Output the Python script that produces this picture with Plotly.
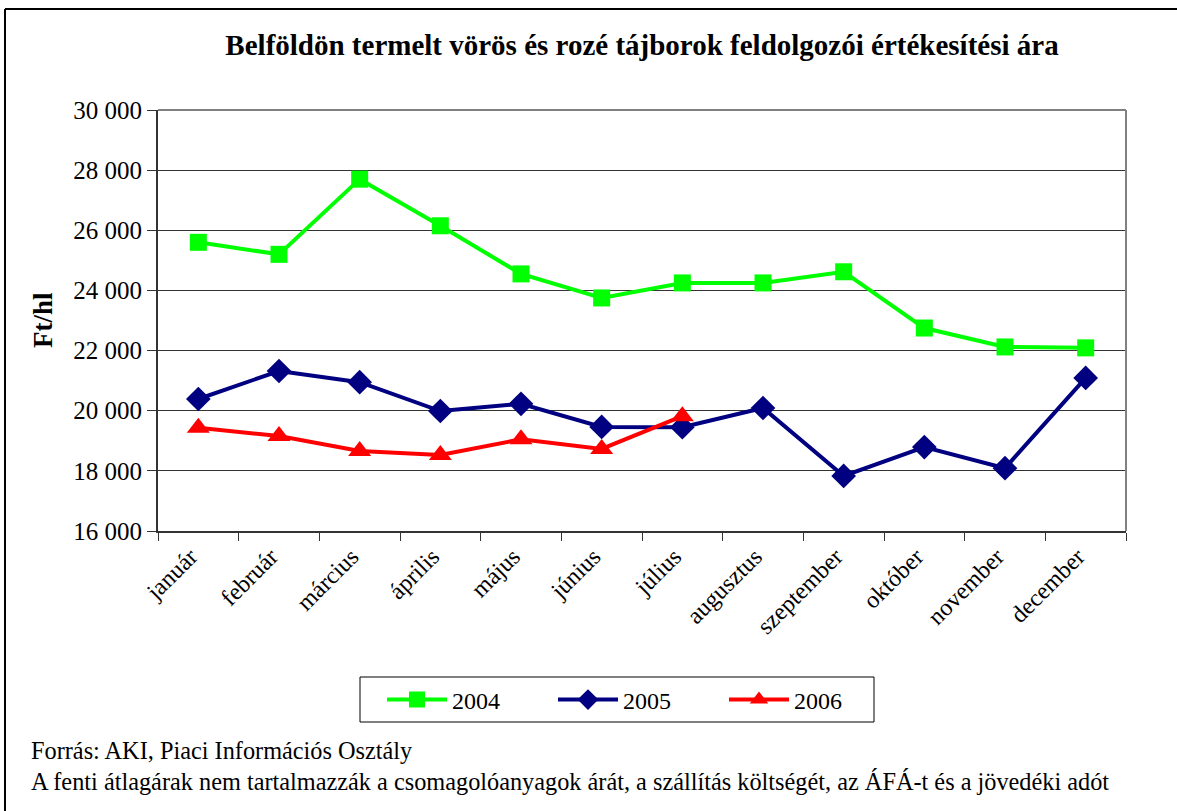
import plotly.graph_objects as go

months = ["január", "február", "március", "április", "május", "június", "július",
          "augusztus", "szeptember", "október", "november", "december"]
y2004 = [25600, 25200, 27700, 26150, 24550, 23750, 24250, 24250, 24620, 22750, 22120, 22090]
y2005 = [20390, 21320, 20950, 19990, 20230, 19460, 19450, 20090, 17830, 18790, 18090, 21090]
y2006 = [19430, 19160, 18660, 18530, 19050, 18730, 19820]

W, H = 1177, 811
L, R, T, B = 158, 1126, 110, 531
pw, ph = R - L, B - T

def px(x):
    return (x - L) / pw

def py(y):
    return (B - y) / ph

FONT = "Liberation Serif"

fig = go.Figure()
fig.add_trace(go.Scatter(x=months, y=y2004, name="2004", mode="lines+markers",
                         line=dict(color="#00FF00", width=4),
                         marker=dict(symbol="square", size=17, color="#00FF00")))
fig.add_trace(go.Scatter(x=months[:len(y2005)], y=y2005, name="2005", mode="lines+markers",
                         line=dict(color="#000080", width=4),
                         marker=dict(symbol="diamond", size=19, color="#000080")))
fig.add_trace(go.Scatter(x=months[:len(y2006)], y=y2006, name="2006", mode="lines+markers",
                         line=dict(color="#FF0000", width=4),
                         marker=dict(symbol="triangle-up", size=20, color="#FF0000")))

fig.update_layout(
    width=W, height=H,
    margin=dict(l=L, r=W - R, t=T, b=H - B, pad=0),
    paper_bgcolor="white", plot_bgcolor="white",
    font=dict(family=FONT, color="black", size=24),
    separators=", ",
    title=dict(text="<b>Belföldön termelt vörös és rozé tájborok feldolgozói értékesítési ára</b>",
               x=0.5, xref="paper", xanchor="center", y=1 - 45 / H, yanchor="middle",
               font=dict(family=FONT, size=29, color="black")),
    xaxis=dict(type="category", categoryorder="array", categoryarray=months,
               range=[-0.5, 11.5], tickangle=-45, tickson="boundaries",
               ticks="outside", ticklen=8, tickcolor="#333333",
               showline=True, linecolor="#333333", linewidth=2, mirror=False,
               showgrid=False, tickfont=dict(family=FONT, size=24),
               ticklabelshift=-8),
    yaxis=dict(range=[16000, 30000], dtick=2000, tickformat=",d",
               ticks="outside", ticklen=9, tickcolor="#333333",
               showline=True, linecolor="#333333", linewidth=2,
               showgrid=True, gridcolor="#333333", gridwidth=1,
               zeroline=False, tickfont=dict(family=FONT, size=25)),
    legend=dict(orientation="h", x=px(382), y=py(700), xanchor="left", yanchor="middle",
                borderwidth=0, bgcolor="rgba(0,0,0,0)",
                font=dict(family=FONT, size=24), entrywidth=96, entrywidthmode="pixels",
                itemwidth=60),
    showlegend=True,
)

# legend frame
fig.add_shape(type="rect", xref="paper", yref="paper", x0=px(360), x1=px(874), y0=py(677), y1=py(722),
              line=dict(color="black", width=1), fillcolor="white", layer="below")
# plot-area border on top and right (gray)
fig.add_shape(type="line", xref="paper", yref="paper", x0=0, x1=1, y0=1, y1=1,
              line=dict(color="#808080", width=2))
fig.add_shape(type="line", xref="paper", yref="paper", x0=1, x1=1, y0=0, y1=1,
              line=dict(color="#808080", width=2))
# outer frame (top and left)
fig.add_shape(type="line", xref="paper", yref="paper", x0=px(5), x1=px(W + 5), y0=py(9), y1=py(9),
              line=dict(color="black", width=2))
fig.add_shape(type="line", xref="paper", yref="paper", x0=px(5), x1=px(5), y0=py(9), y1=py(H + 5),
              line=dict(color="black", width=2))

fig.add_annotation(text="<b>Ft/hl</b>", xref="paper", yref="paper", x=px(43), y=py(320),
                   xanchor="center", yanchor="middle", textangle=-90, showarrow=False,
                   font=dict(family=FONT, size=27, color="black"))

notes = ["Forrás: AKI, Piaci Információs Osztály",
         "A fenti átlagárak nem tartalmazzák a csomagolóanyagok árát, a szállítás költségét, az ÁFÁ-t és a jövedéki adót"]
for i, t in enumerate(notes):
    fig.add_annotation(text=t, xref="paper", yref="paper", x=px(29), y=py(750 + 31 * i),
                       xanchor="left", yanchor="middle", showarrow=False,
                       font=dict(family=FONT, size=24.3, color="black"))

fig.write_html("out.html", config={"displayModeBar": False},
               post_script="document.body.style.margin='0';document.body.style.overflow='hidden';")
